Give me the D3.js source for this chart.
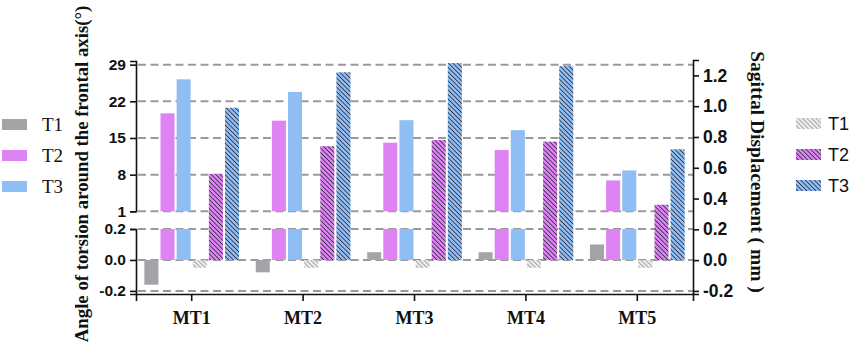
<!DOCTYPE html>
<html>
<head>
<meta charset="utf-8">
<script src="https://cdn.jsdelivr.net/npm/d3@7"></script>
<style>
  html, body { margin: 0; padding: 0; background: #fff; }
  svg { display: block; }
</style>
</head>
<body>
<svg id="chart" width="858" height="353"></svg>
<script>
// ---------------- data ----------------
const categories = ["MT1", "MT2", "MT3", "MT4", "MT5"];
const seriesNames = ["T1", "T2", "T3"];
// Angle of torsion around the frontal axis (°) – left axis, solid bars
const torsionT1 = [-0.16, -0.08, 0.05, 0.05, 0.10];
const torsionT2 = [19.7, 18.3, 14.1, 12.7, 6.9];
const torsionT3 = [26.2, 23.8, 18.4, 16.5, 8.8];
// Sagittal displacement (mm) – right axis, hatched bars
const displacementT1 = [-0.05, -0.05, -0.05, -0.05, -0.05];
const displacementT2 = [0.56, 0.74, 0.78, 0.77, 0.36];
const displacementT3 = [0.99, 1.22, 1.28, 1.26, 0.72];
// tick labels
const leftTicksUpper = [1, 8, 15, 22, 29];
const leftTicksLower = [-0.2, 0.0, 0.2];
const rightTicks = [-0.2, 0.0, 0.2, 0.4, 0.6, 0.8, 1.0, 1.2];

const colors = ["#a4a4a8", "#de83f4", "#8ebef4"];
const hatchLine = ["#a8a8a8", "#2c2c3c", "#2c2c3c"];
const hatchBg = ["#efefef", "#de83f4", "#8ebef4"];

// ---------------- layout ----------------
const svg = d3.select("#chart");
const plotLeft = 136, plotRight = 693, plotBottom = 294;
const upperTop = 61, upperBottom = 211.3, lowerTop = 229;

const x0 = d3.scaleBand().domain(categories).range([plotLeft, plotRight])
  .paddingInner(0.15).paddingOuter(0.075);
const slots = ["s1", "s2", "s3", "h1", "h2", "h3"];
const x1 = d3.scaleBand().domain(slots).range([0, x0.bandwidth()]).paddingInner(0.13);

const yUpper = d3.scaleLinear().domain([1, 29.7]).range([upperBottom, upperTop]);
const yLower = d3.scaleLinear().domain([-0.22, 0.2]).range([plotBottom, lowerTop]);
const yRight = d3.scaleLinear().domain([-0.22, 1.3]).range([plotBottom, 60]);

// ---------------- patterns ----------------
const defs = svg.append("defs");
const hatchGap = 3.2;
seriesNames.forEach((s, i) => {
  const p = defs.append("pattern")
    .attr("id", "hatch" + i)
    .attr("patternUnits", "userSpaceOnUse")
    .attr("width", hatchGap).attr("height", 10)
    .attr("patternTransform", "rotate(-45)");
  p.append("rect").attr("width", hatchGap).attr("height", 10).attr("fill", hatchBg[i]);
  p.append("rect").attr("x", 0).attr("y", 0).attr("width", i === 0 ? 1.1 : 0.8).attr("height", 10)
    .attr("fill", hatchLine[i]);
});

// ---------------- grid ----------------
const grid = svg.append("g");
leftTicksUpper.forEach(v => {
  grid.append("line").attr("x1", plotLeft + 2).attr("x2", plotRight)
    .attr("y1", yUpper(v)).attr("y2", yUpper(v));
});
leftTicksLower.forEach(v => {
  grid.append("line").attr("x1", plotLeft + 2).attr("x2", plotRight)
    .attr("y1", yLower(v)).attr("y2", yLower(v));
});
grid.selectAll("line").attr("stroke", "#9a9a9a").attr("stroke-width", 2)
  .attr("stroke-dasharray", "8,4.5");

// ---------------- bars ----------------
const torsion = [torsionT1, torsionT2, torsionT3];
const displacement = [displacementT1, displacementT2, displacementT3];
const bars = svg.append("g");

categories.forEach((cat, ci) => {
  const gx = x0(cat);
  // solid bars on the broken left axis
  torsion.forEach((arr, si) => {
    const v = arr[ci];
    const x = gx + x1(slots[si]);
    const w = x1.bandwidth();
    if (v <= 0.2) {
      bars.append("rect").attr("x", x).attr("width", w)
        .attr("y", Math.min(yLower(0), yLower(v)))
        .attr("height", Math.abs(yLower(v) - yLower(0)))
        .attr("fill", colors[si]);
    } else {
      bars.append("rect").attr("x", x).attr("width", w)
        .attr("y", yLower(0.2)).attr("height", yLower(0) - yLower(0.2))
        .attr("fill", colors[si]);
      bars.append("rect").attr("x", x).attr("width", w)
        .attr("y", yUpper(v)).attr("height", yUpper(1) - yUpper(v))
        .attr("fill", colors[si]);
    }
  });
  // hatched bars on the right axis
  displacement.forEach((arr, si) => {
    const v = arr[ci];
    const x = gx + x1(slots[3 + si]);
    bars.append("rect").attr("x", x).attr("width", x1.bandwidth())
      .attr("y", Math.min(yRight(0), yRight(v)))
      .attr("height", Math.abs(yRight(v) - yRight(0)))
      .attr("fill", "url(#hatch" + si + ")");
  });
});

// ---------------- axes ----------------
const fmt1 = d => d.toFixed(1);
function styleAxis(g, size) {
  g.selectAll("path.domain").attr("stroke", "#111").attr("stroke-width", 1.6);
  g.selectAll(".tick line").attr("stroke", "#111").attr("stroke-width", 1.6);
  g.selectAll(".tick text").attr("fill", "#111")
    .attr("font-family", "Liberation Sans, Arial, sans-serif")
    .attr("font-weight", "bold").attr("font-size", size);
}

const gUp = svg.append("g").attr("transform", `translate(${plotLeft},0)`)
  .call(d3.axisLeft(yUpper).tickValues(leftTicksUpper).tickFormat(d3.format("d"))
    .tickSizeOuter(0).tickSize(6).tickPadding(4));
styleAxis(gUp, 15.5);

const gLow = svg.append("g").attr("transform", `translate(${plotLeft},0)`)
  .call(d3.axisLeft(yLower).tickValues(leftTicksLower).tickFormat(fmt1)
    .tickSizeOuter(0).tickSize(6).tickPadding(4));
styleAxis(gLow, 15.5);

const gRight = svg.append("g").attr("transform", `translate(${plotRight},0)`)
  .call(d3.axisRight(yRight).tickValues(rightTicks).tickFormat(fmt1)
    .tickSizeOuter(0).tickSize(6).tickPadding(4));
styleAxis(gRight, 17.5);

const gX = svg.append("g").attr("transform", `translate(0,${plotBottom})`)
  .call(d3.axisBottom(x0).tickSizeOuter(0).tickSize(7).tickPadding(10));
gX.select("path.domain").attr("stroke", "#111").attr("stroke-width", 1.6);
gX.selectAll(".tick line").attr("stroke", "#111").attr("stroke-width", 1.6);
gX.selectAll(".tick text").attr("fill", "#111")
  .attr("font-family", "Liberation Serif, Times New Roman, serif")
  .attr("font-weight", "bold").attr("font-size", 18);

// ---------------- axis titles ----------------
svg.append("text")
  .attr("transform", "translate(88,174) rotate(-90)")
  .attr("text-anchor", "middle")
  .attr("font-family", "Liberation Serif, Times New Roman, serif")
  .attr("font-weight", "bold").attr("font-size", 18.8).attr("fill", "#111")
  .text("Angle of torsion around the frontal axis(°)");

svg.append("text")
  .attr("transform", "translate(751,172) rotate(90)")
  .attr("text-anchor", "middle")
  .attr("font-family", "Liberation Serif, Times New Roman, serif")
  .attr("font-weight", "bold").attr("font-size", 19.5).attr("fill", "#111")
  .text("Sagittal Displacement ( mm )");

// ---------------- legends ----------------
const legendY = [119, 150, 181];
const legL = svg.append("g");
seriesNames.forEach((s, i) => {
  legL.append("rect").attr("x", 2).attr("y", legendY[i]).attr("width", 25).attr("height", 11)
    .attr("fill", colors[i]);
  legL.append("text").attr("x", 42).attr("y", legendY[i] + 5.5).attr("dy", "0.35em")
    .attr("font-family", "Liberation Serif, Times New Roman, serif")
    .attr("font-size", 19).attr("fill", "#111").text(s);
});
const legR = svg.append("g");
seriesNames.forEach((s, i) => {
  legR.append("rect").attr("x", 796).attr("y", legendY[i] - 1).attr("width", 25).attr("height", 11)
    .attr("fill", "url(#hatch" + i + ")");
  legR.append("text").attr("x", 828).attr("y", legendY[i] + 4.5).attr("dy", "0.35em")
    .attr("font-family", "Liberation Sans, Arial, sans-serif")
    .attr("font-size", 18).attr("fill", "#111").text(s);
});
</script>
</body>
</html>
